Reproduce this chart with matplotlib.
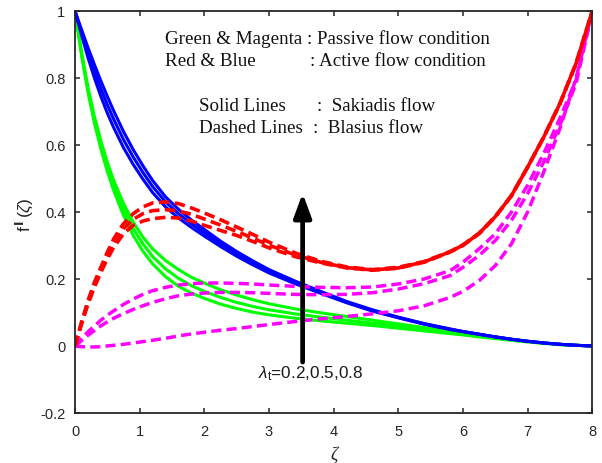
import matplotlib
matplotlib.use("Agg")
import matplotlib.pyplot as plt

# shared similarity-variable grid
zeta = [0, 0.1, 0.2, 0.3, 0.4, 0.5, 0.6, 0.75, 0.9, 1.05, 1.2, 1.4, 1.6, 1.8, 2.0,
        2.25, 2.5, 2.75, 3.0, 3.4, 3.8, 4.2, 4.6, 5.0, 5.4, 5.8, 6.0, 6.25, 6.5,
        6.75, 7.0, 7.25, 7.5, 7.75, 8.0]

# Active flow, Sakiadis (blue solid)
blue_1 = [1.0, 0.945, 0.891, 0.84, 0.791, 0.745, 0.701, 0.64, 0.586, 0.538, 0.494, 0.445,
          0.408, 0.376, 0.348, 0.313, 0.282, 0.254, 0.228, 0.194, 0.163, 0.133, 0.108, 0.086,
          0.067, 0.051, 0.043, 0.035, 0.027, 0.02, 0.014, 0.009, 0.005, 0.002, 0.0]
blue_2 = [1.0, 0.937, 0.876, 0.82, 0.768, 0.72, 0.676, 0.616, 0.564, 0.518, 0.476, 0.43,
          0.395, 0.365, 0.338, 0.305, 0.275, 0.248, 0.223, 0.19, 0.16, 0.131, 0.106, 0.085,
          0.066, 0.05, 0.043, 0.035, 0.027, 0.02, 0.014, 0.009, 0.005, 0.002, 0.0]
blue_3 = [1.0, 0.929, 0.861, 0.80, 0.745, 0.695, 0.651, 0.592, 0.542, 0.498, 0.458, 0.415,
          0.382, 0.354, 0.328, 0.297, 0.268, 0.242, 0.218, 0.186, 0.157, 0.129, 0.104, 0.084,
          0.065, 0.049, 0.043, 0.035, 0.027, 0.02, 0.014, 0.009, 0.005, 0.002, 0.0]

# Passive flow, Sakiadis (green solid)
green_1 = [1.0, 0.878, 0.772, 0.685, 0.612, 0.548, 0.493, 0.425, 0.37, 0.325, 0.29, 0.255,
           0.228, 0.205, 0.188, 0.168, 0.152, 0.138, 0.126, 0.111, 0.099, 0.088, 0.077,
           0.066, 0.055, 0.045, 0.04, 0.033, 0.027, 0.02, 0.014, 0.009, 0.005, 0.002, 0.0]
green_2 = [1.0, 0.874, 0.765, 0.675, 0.60, 0.535, 0.478, 0.408, 0.35, 0.305, 0.267, 0.23,
           0.202, 0.18, 0.163, 0.145, 0.13, 0.118, 0.108, 0.096, 0.086, 0.077, 0.068,
           0.059, 0.05, 0.041, 0.036, 0.03, 0.024, 0.018, 0.013, 0.008, 0.004, 0.002, 0.0]
green_3 = [1.0, 0.87, 0.758, 0.665, 0.588, 0.521, 0.463, 0.39, 0.33, 0.283, 0.245, 0.207,
           0.178, 0.158, 0.142, 0.125, 0.112, 0.101, 0.093, 0.083, 0.075, 0.068, 0.061,
           0.053, 0.045, 0.037, 0.033, 0.027, 0.022, 0.017, 0.012, 0.008, 0.004, 0.002, 0.0]

# Active flow, Blasius (red dashed)
red_1 = [0, 0.07, 0.135, 0.19, 0.235, 0.28, 0.32, 0.365, 0.395, 0.415, 0.427, 0.43,
         0.425, 0.412, 0.397, 0.377, 0.355, 0.333, 0.31, 0.278, 0.253, 0.236, 0.228, 0.235,
         0.252, 0.282, 0.302, 0.337, 0.387, 0.45, 0.535, 0.625, 0.725, 0.845, 1.0]
red_2 = [0, 0.068, 0.13, 0.183, 0.228, 0.27, 0.308, 0.35, 0.378, 0.395, 0.404, 0.407,
         0.403, 0.393, 0.379, 0.361, 0.342, 0.322, 0.301, 0.272, 0.25, 0.234, 0.227, 0.233,
         0.251, 0.281, 0.301, 0.336, 0.386, 0.449, 0.534, 0.624, 0.724, 0.844, 1.0]
red_3 = [0, 0.065, 0.125, 0.175, 0.22, 0.26, 0.295, 0.335, 0.36, 0.373, 0.38, 0.384,
         0.382, 0.373, 0.36, 0.345, 0.33, 0.312, 0.293, 0.267, 0.248, 0.233, 0.226, 0.232,
         0.25, 0.28, 0.30, 0.335, 0.385, 0.448, 0.533, 0.623, 0.723, 0.843, 1.0]

# Passive flow, Blasius (magenta dashed)
magenta_1 = [0, 0.022, 0.042, 0.06, 0.077, 0.092, 0.105, 0.124, 0.14, 0.154, 0.165, 0.175,
             0.182, 0.186, 0.188, 0.188, 0.187, 0.185, 0.182, 0.178, 0.175, 0.174, 0.176,
             0.185, 0.2, 0.225, 0.25, 0.29, 0.335, 0.40, 0.48, 0.575, 0.68, 0.795, 1.0]
magenta_2 = [0, 0.016, 0.032, 0.046, 0.06, 0.072, 0.083, 0.097, 0.109, 0.12, 0.13, 0.141,
             0.15, 0.155, 0.158, 0.16, 0.16, 0.159, 0.157, 0.154, 0.153, 0.154, 0.159,
             0.17, 0.186, 0.21, 0.235, 0.27, 0.315, 0.375, 0.455, 0.55, 0.66, 0.785, 1.0]
magenta_3 = [0, -0.002, -0.003, -0.003, -0.002, 0.0, 0.002, 0.005, 0.009, 0.013, 0.017,
             0.023, 0.03, 0.036, 0.041, 0.047, 0.052, 0.058, 0.064, 0.073, 0.081, 0.088,
             0.096, 0.105, 0.12, 0.145, 0.163, 0.195, 0.24, 0.305, 0.40, 0.52, 0.65, 0.80, 1.0]

x_ticks = [0, 1, 2, 3, 4, 5, 6, 7, 8]
y_ticks = [-0.2, 0, 0.2, 0.4, 0.6, 0.8, 1.0]
y_tick_labels = ["-0.2", "0", "0.2", "0.4", "0.6", "0.8", "1"]

plt.rcParams["mathtext.fontset"] = "custom"
plt.rcParams["mathtext.rm"] = "Liberation Sans"
plt.rcParams["mathtext.it"] = "Liberation Sans:italic"
plt.rcParams["mathtext.sf"] = "Liberation Sans"

axis_col = "#262626"

fig = plt.figure(figsize=(6.02, 4.64), dpi=100)
ax = fig.add_axes([0.1246, 0.1078, 0.8593, 0.8664])

solid_lw = 2.2
for ys in (green_1, green_2, green_3):
    ax.plot(zeta, ys, color=(0, 1, 0), lw=solid_lw, solid_capstyle="butt")
for ys in (blue_1, blue_2, blue_3):
    ax.plot(zeta, ys, color=(0, 0, 1), lw=solid_lw, solid_capstyle="butt")

dash = (2.9, 1.5)
for ys in (magenta_1, magenta_2, magenta_3):
    ax.plot(zeta, ys, color=(1, 0, 1), lw=2.5, dashes=dash, dash_capstyle="butt")
for ys in (red_1, red_2, red_3):
    ax.plot(zeta, ys, color=(1, 0, 0), lw=2.6, dashes=dash, dash_capstyle="butt")

ax.set_xlim(0, 8)
ax.set_ylim(-0.2, 1)
ax.set_xticks(x_ticks)
ax.set_xticklabels([str(t) for t in x_ticks])
ax.set_yticks(y_ticks)
ax.set_yticklabels(y_tick_labels)

for s in ax.spines.values():
    s.set_color(axis_col)
    s.set_linewidth(1.3)
ax.tick_params(direction="in", top=True, right=True, length=3.6, width=1.1,
               color=axis_col, labelcolor=axis_col, labelsize=10.5)
ax.tick_params(axis="x", pad=8)
ax.tick_params(axis="y", pad=7)
for lab in ax.get_xticklabels() + ax.get_yticklabels():
    lab.set_family("Liberation Sans")

# parameter arrow
ax.annotate("", xy=(3.52, 0.456), xytext=(3.52, -0.048),
            arrowprops=dict(arrowstyle="-|>,head_length=0.9,head_width=0.33",
                            lw=3.4, color="black", mutation_scale=16,
                            shrinkA=0, shrinkB=0))
ax.text(2.83, -0.0925, r"$\lambda_{\rm t}$=0.2,0.5,0.8", family="Liberation Sans",
        fontsize=12.3, color="#1a1a1a", ha="left", va="baseline")

# line-style key
serif = dict(family="Liberation Serif", fontsize=13.7, color="#111111",
             ha="left", va="baseline")
ax.text(1.39, 0.9036, "Green & Magenta : Passive flow condition", **serif)
ax.text(1.39, 0.8388, "Red & Blue", **serif)
ax.text(3.63, 0.8388, ": Active flow condition", **serif)
ax.text(1.92, 0.7045, "Solid Lines", **serif)
ax.text(3.74, 0.7045, ":  Sakiadis flow", **serif)
ax.text(1.92, 0.6388, "Dashed Lines", **serif)
ax.text(3.68, 0.6388, ":  Blasius flow", **serif)

ax.text(0.5, -0.102, "\u03b6", transform=ax.transAxes, family="Liberation Serif",
        style="italic", fontsize=13, color=axis_col, ha="center", va="center")
ax.text(-0.099, 0.495, r"$\mathrm{f}^{\,\mathbf{I}}\,\mathrm{(}\zeta\mathrm{)}$",
        transform=ax.transAxes, fontsize=12.5, color=axis_col, rotation=90,
        ha="center", va="center")

fig.savefig("out.png", dpi=100)
